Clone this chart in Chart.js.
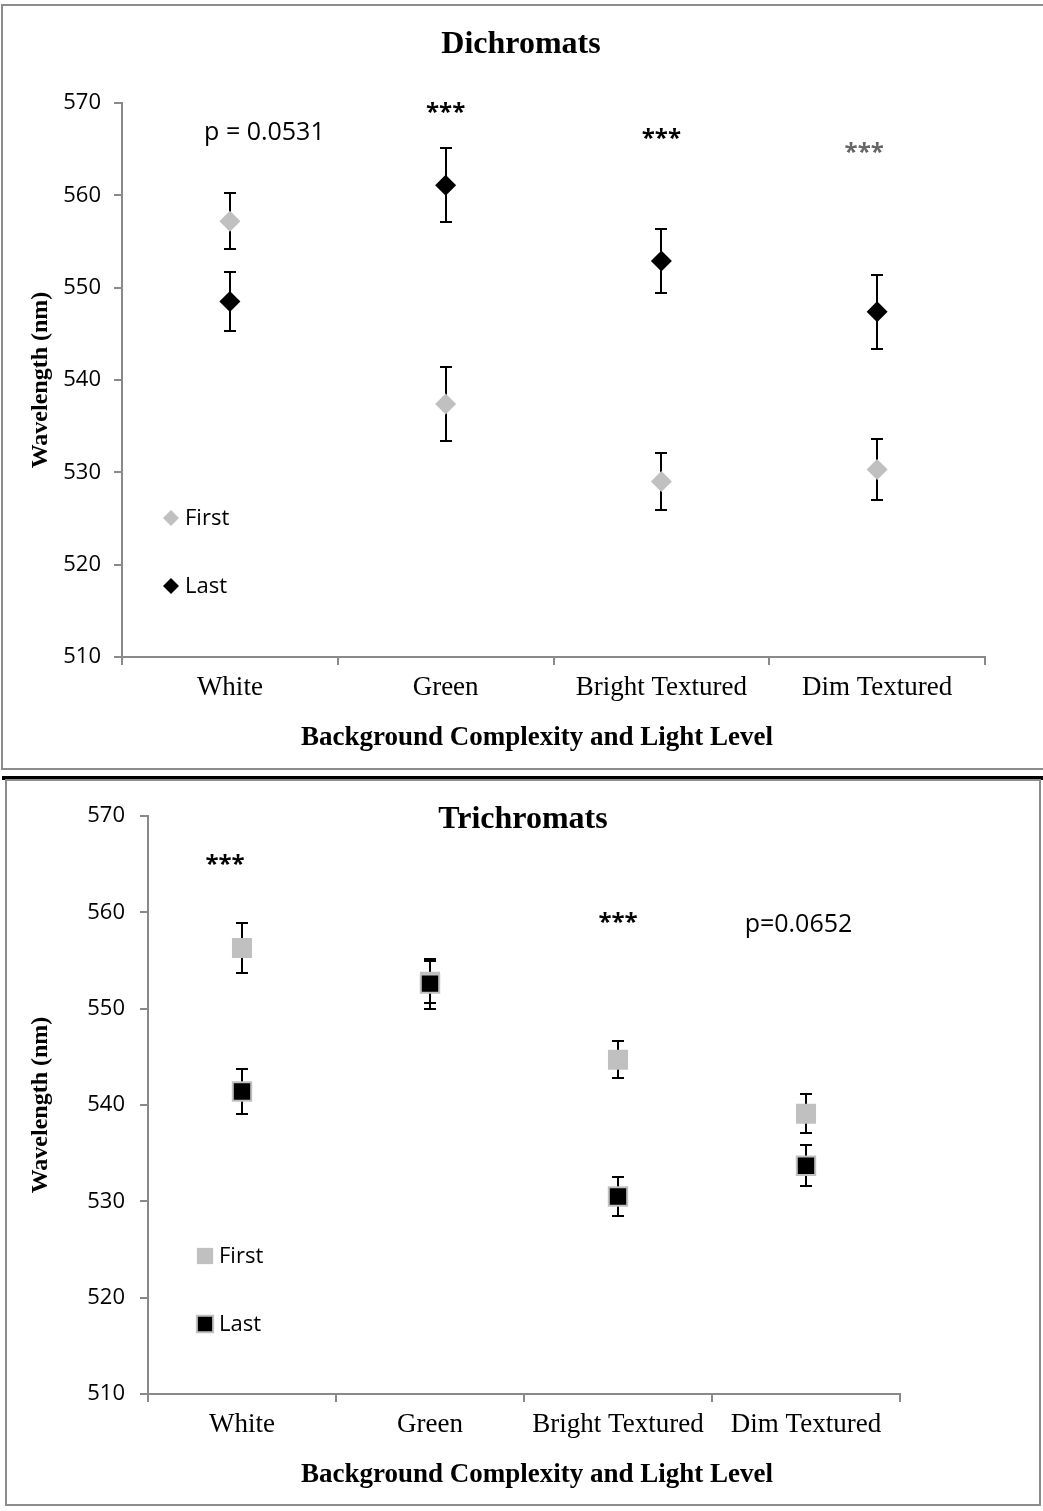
<!DOCTYPE html>
<html>
<head>
<meta charset="utf-8">
<script src="https://cdn.jsdelivr.net/npm/chart.js@4.4.0/dist/chart.umd.min.js"></script>
<style>
body { margin: 0; background: #fff; width: 1043px; height: 1511px; overflow: hidden; position: relative; }
.panel { position: absolute; left: 0; width: 1043px; }
.frame { position: absolute; border: 2px solid #8c8c8c; box-sizing: border-box; pointer-events: none; }
</style>
</head>
<body>
<div class="panel" style="top:0;height:770px"><canvas id="dichro"></canvas></div>
<div class="frame" style="left:1px;top:4px;width:1050px;height:766px"></div>
<div style="position:absolute;left:2px;top:776px;width:1041px;height:4px;background:#000"></div>
<div class="panel" style="top:780px;height:731px"><canvas id="trichro"></canvas></div>
<div class="frame" style="left:5px;top:779px;width:1036px;height:727px"></div>

<script>
const categories = ["White", "Green", "Bright Textured", "Dim Textured"];
const seriesNames = ["First", "Last"];
const yMin = 510, yMax = 570, yStep = 10;

// Dichromats (mean wavelength, nm) and error bar half-widths
const diFirst = [557.2, 537.4, 529.0, 530.3];
const diFirstErr = [3.0, 4.0, 3.1, 3.3];
const diLast = [548.5, 561.1, 552.9, 547.4];
const diLastErr = [3.2, 4.0, 3.5, 4.0];
const diNotes = ["p = 0.0531", "***", "***", "***"];

// Trichromats
const triFirst = [556.3, 552.8, 544.7, 539.1];
const triFirstErr = [2.6, 2.2, 1.9, 2.0];
const triLast = [541.4, 552.6, 530.5, 533.7];
const triLastErr = [2.3, 2.6, 2.0, 2.1];
const triNotes = ["***", "", "***", "p=0.0652"];

const GREY = "#c0c0c0";
const AXIS = "#898989";
const SANS = '"Open Sans", "Liberation Sans", sans-serif';
const SERIF = '"Liberation Serif", "DejaVu Serif", serif';

function markerPath(ctx, shape, x, y, r) {
    ctx.beginPath();
    if (shape === "rectRot") {
        ctx.moveTo(x - r, y); ctx.lineTo(x, y - r); ctx.lineTo(x + r, y); ctx.lineTo(x, y + r);
    } else {
        const s = Math.SQRT1_2 * r;
        ctx.rect(x - s, y - s, 2 * s, 2 * s);
    }
    ctx.closePath();
}

// vertical error bars with caps, behind the markers
const errorBars = {
    id: "errorBars",
    beforeDatasetsDraw(chart) {
        const { ctx, scales: { y } } = chart;
        ctx.save();
        ctx.strokeStyle = "#000";
        ctx.lineWidth = 2;
        chart.data.datasets.forEach((ds, di) => {
            const meta = chart.getDatasetMeta(di);
            meta.data.forEach((pt, i) => {
                const v = ds.data[i], e = ds.errors[i];
                const top = Math.round(y.getPixelForValue(v + e)), bot = Math.round(y.getPixelForValue(v - e));
                const x = Math.round(pt.x);
                ctx.beginPath();
                ctx.moveTo(x, top); ctx.lineTo(x, bot);
                ctx.moveTo(x - 6, top); ctx.lineTo(x + 6, top);
                ctx.moveTo(x - 6, bot); ctx.lineTo(x + 6, bot);
                ctx.stroke();
            });
        });
        ctx.restore();
    }
};

// significance notes, inside legend and x-axis title
const panelText = {
    id: "panelText",
    afterLayout(chart, args, o) {
        // Excel centres the chart title on the whole panel, not on the plot
        const t = chart.titleBlock, w = chart.width;
        t.left = o.titleCenter - w / 2;
        t.right = o.titleCenter + w / 2;
    },
    afterDatasetsDraw(chart, args, o) {
        const { ctx, chartArea, scales: { x, y } } = chart;
        ctx.save();
        ctx.textBaseline = "middle";
        ctx.textAlign = "center";
        o.notes.forEach((txt, i) => {
            if (!txt) return;
            const at = o.notePos[i];
            ctx.font = (txt === "***" ? "bold 24px " : "25px ") + SANS;
            ctx.fillStyle = at[2] || "#000";
            ctx.fillText(txt, x.getPixelForValue(at[0]), y.getPixelForValue(at[1]));
        });

        ctx.textAlign = "left";
        ctx.font = o.legendFont;
        chart.data.datasets.forEach((ds, i) => {
            const lx = chartArea.left + o.legendAt[i][0], ly = chartArea.top + o.legendAt[i][1];
            markerPath(ctx, ds.pointStyle, lx, ly, o.legendRadius);
            ctx.fillStyle = ds.pointBackgroundColor;
            ctx.fill();
            if (ds.pointBorderWidth) {
                ctx.lineWidth = ds.pointBorderWidth;
                ctx.strokeStyle = ds.pointBorderColor;
                ctx.stroke();
            }
            ctx.fillStyle = "#000";
            ctx.fillText(ds.label, lx + 14, ly + 1);
        });

        ctx.textAlign = "center";
        ctx.font = "bold 27px " + SERIF;
        ctx.fillText(o.xTitle, o.xTitleAt[0], o.xTitleAt[1]);
        ctx.restore();
    }
};

function buildChart(id, p) {
    return new Chart(document.getElementById(id), {
        type: "line",
        data: {
            labels: categories,
            datasets: [
                { label: seriesNames[0], data: p.first, errors: p.firstErr, order: 2,
                  showLine: false, pointStyle: p.shape, pointRadius: p.firstRadius,
                  pointBackgroundColor: GREY, pointBorderColor: GREY, pointBorderWidth: 0 },
                { label: seriesNames[1], data: p.last, errors: p.lastErr, order: 1,
                  showLine: false, pointStyle: p.shape, pointRadius: p.lastRadius,
                  pointBackgroundColor: "#000", pointBorderColor: GREY, pointBorderWidth: p.lastBorder }
            ]
        },
        options: {
            responsive: true,
            maintainAspectRatio: false,
            animation: false,
            events: [],
            layout: { padding: { left: 0, top: 0, bottom: 0, right: p.padRight } },
            scales: {
                x: {
                    offset: true,
                    afterFit: s => { s.height = p.xAxisHeight; },
                    grid: { offset: true, drawOnChartArea: false, tickLength: 8, color: AXIS, lineWidth: 2 },
                    border: { color: AXIS, width: 2 },
                    ticks: { color: "#000", padding: 7, font: { family: SERIF, size: 27 } }
                },
                y: {
                    min: yMin, max: yMax,
                    afterFit: s => { s.width = p.yAxisWidth; },
                    grid: { drawOnChartArea: false, tickLength: 8, color: AXIS, lineWidth: 2 },
                    border: { color: AXIS, width: 2 },
                    ticks: { stepSize: yStep, color: "#000", padding: p.tickPad, font: { family: SANS, size: 22 } },
                    title: { display: true, text: "Wavelength (nm)", color: "#000",
                             font: { family: SERIF, size: 24, weight: "bold" }, padding: { top: 26, bottom: 0 } }
                }
            },
            plugins: {
                legend: { display: false },
                tooltip: { enabled: false },
                title: { display: true, text: p.title, color: "#000",
                         font: { family: SERIF, size: 32, weight: "bold" }, padding: p.titlePad },
                panelText: {
                    titleCenter: p.titleCenter,
                    notes: p.notes, notePos: p.notePos,
                    legendAt: p.legendAt, legendRadius: p.legendRadius, legendFont: "22px " + SANS,
                    xTitle: "Background Complexity and Light Level", xTitleAt: p.xTitleAt
                }
            }
        },
        plugins: [errorBars, panelText]
    });
}

buildChart("dichro", {
    title: "Dichromats", titlePad: { top: 26, bottom: 38.6 }, titleCenter: 521,
    first: diFirst, firstErr: diFirstErr, last: diLast, lastErr: diLastErr,
    shape: "rectRot", firstRadius: 10.5, lastRadius: 10.5, lastBorder: 0,
    notes: diNotes, notePos: [[0.16, 566.8], [1, 568.9], [2, 566.1], [2.94, 564.6, "#666"]],
    legendAt: [[49, 415], [49, 483]], legendRadius: 8,
    xTitleAt: [537, 738],
    yAxisWidth: 122, xAxisHeight: 113, padRight: 58, tickPad: 13
});

buildChart("trichro", {
    title: "Trichromats", titlePad: { top: 21, bottom: -23.4 }, titleCenter: 523,
    first: triFirst, firstErr: triFirstErr, last: triLast, lastErr: triLastErr,
    shape: "rect", firstRadius: 14.2, lastRadius: 13, lastBorder: 2,
    notes: triNotes, notePos: [[-0.09, 564.9], [0, 0], [2, 558.9], [2.96, 558.7]],
    legendAt: [[57, 440], [57, 508]], legendRadius: 11.5,
    xTitleAt: [537, 695],
    yAxisWidth: 148, xAxisHeight: 117, padRight: 143, tickPad: 15
});
</script>
</body>
</html>
